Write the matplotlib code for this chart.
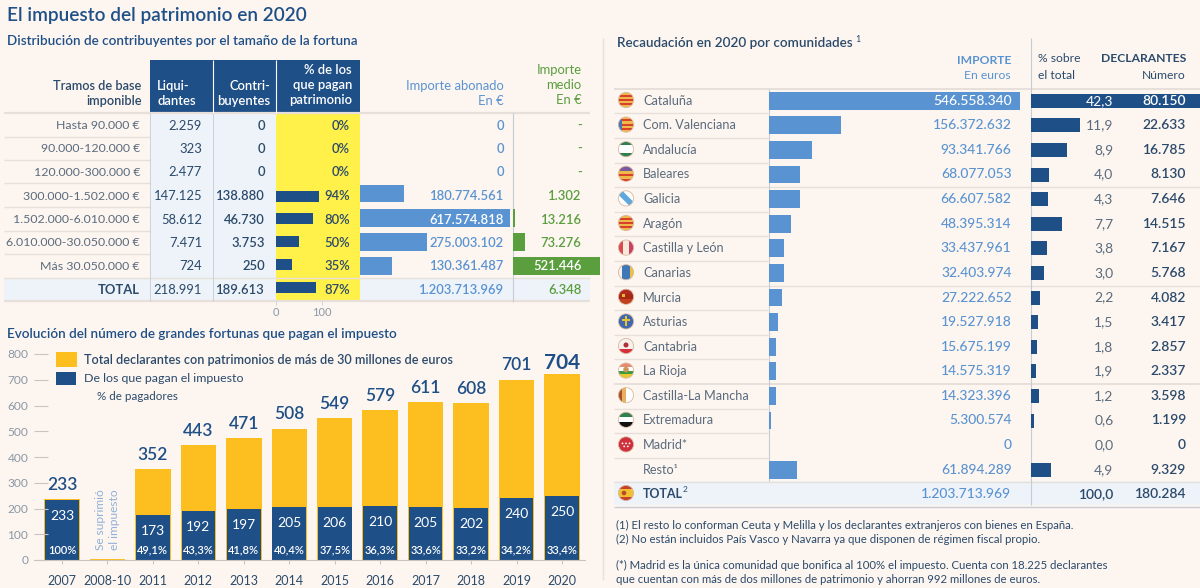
import matplotlib
matplotlib.use('Agg')
import matplotlib.pyplot as plt
from matplotlib.patches import Circle, Rectangle, Polygon

# --- left table
tramos = ['Hasta 90.000 €', '90.000-120.000 €', '120.000-300.000 €', '300.000-1.502.000 €',
          '1.502.000-6.010.000 €', '6.010.000-30.050.000 €', 'Más 30.050.000 €', 'TOTAL']
liquidantes = ['2.259', '323', '2.477', '147.125', '58.612', '7.471', '724', '218.991']
contribuyentes = ['0', '0', '0', '138.880', '46.730', '3.753', '250', '189.613']
pct_pagan = [0, 0, 0, 94, 80, 50, 35, 87]
importe_abonado = [0, 0, 0, 180774561, 617574818, 275003102, 130361487, 1203713969]
importe_medio = [None, None, None, 1302, 13216, 73276, 521446, 6348]

# --- evolution chart
years = ['2007', '2008-10', '2011', '2012', '2013', '2014', '2015', '2016', '2017', '2018', '2019', '2020']
total_labels = [233, None, 352, 443, 471, 508, 549, 579, 611, 608, 701, 704]
# bar tops as drawn in the picture (2020 is drawn taller than its label)
total_drawn = [235, 5, 353, 445, 473, 510, 550, 581, 612, 609, 699, 722]
pagan = [233, 0, 173, 192, 197, 205, 206, 210, 205, 202, 240, 250]
pct_pagadores = ['100%', '', '49,1%', '43,3%', '41,8%', '40,4%', '37,5%', '36,3%', '33,6%', '33,2%', '34,2%', '33,4%']

# --- right table
comunidades = ['Cataluña', 'Com. Valenciana', 'Andalucía', 'Baleares', 'Galicia', 'Aragón', 'Castilla y León',
               'Canarias', 'Murcia', 'Asturias', 'Cantabria', 'La Rioja', 'Castilla-La Mancha', 'Extremadura',
               'Madrid*', 'Resto¹']
importe_ccaa = [546558340, 156372632, 93341766, 68077053, 66607582, 48395314, 33437961, 32403974,
                27222652, 19527918, 15675199, 14575319, 14323396, 5300574, 0, 61894289]
pct_total = ['42,3', '11,9', '8,9', '4,0', '4,3', '7,7', '3,8', '3,0', '2,2', '1,5', '1,8', '1,9', '1,2', '0,6', '0,0', '4,9']
declarantes = [80150, 22633, 16785, 8130, 7646, 14515, 7167, 5768, 4082, 3417, 2857, 2337, 3598, 1199, 0, 9329]
RD = '#d8402a'
OR = '#eeb84a'
flag_stripes = [('h', [OR, RD, OR, RD, OR, RD, OR]),
                ('h', [OR, RD, OR, RD, OR, RD, OR]),
                ('h', ['#2f7f50', '#ffffff', '#ffffff', '#2f7f50']),
                ('h', ['#7a5a9a', '#7a5a9a', OR, RD, OR, RD]),
                ('h', ['#ffffff']),
                ('h', [OR, RD, OR, RD, OR, RD, OR]),
                ('v', ['#d84a50', '#f7e8dc', '#c84060']),
                ('v', ['#f5f0ea', '#3f78b8', '#3f78b8', '#eec040']),
                ('h', ['#b02a20', '#a82818', '#c04020']),
                ('h', ['#3f68b0', '#3f68b0']),
                ('h', ['#f8f0ea', '#f8f0ea', '#d8303a']),
                ('h', ['#e88a70', '#ffffff', '#3f9a40', '#e8c830']),
                ('v', ['#a8502a', '#e8b060', '#ffffff', '#ffffff']),
                ('h', ['#2f7f50', '#ffffff', '#111111']),
                ('h', ['#d0303c'])]

BG = '#fdf6f0'
NAVY = '#1f4f87'
MID = '#5a93d2'
YEL = '#fff04a'
GOLD = '#fdbf20'
GREEN = '#5a9e3e'
DARK = '#2b4a6b'
GREY = '#5b6b7d'
PALE = '#eef3f9'
LINE = '#e6dfda'
LINE2 = '#c5ccd6'

plt.rcParams['font.family'] = ['Lato', 'DejaVu Sans']
W, H = 1200, 588
fig = plt.figure(figsize=(W / 100, H / 100), dpi=100, facecolor=BG)


def px_axes(x0, y0, x1, y1, z):
    ax = fig.add_axes([x0 / W, 1 - y1 / H, (x1 - x0) / W, (y1 - y0) / H], zorder=z)
    ax.patch.set_alpha(0)
    return ax


def overlay(z):
    ax = px_axes(0, 0, W, H, z)
    ax.set_xlim(0, W)
    ax.set_ylim(H, 0)
    ax.axis('off')
    return ax


def bar_column(x0, x1, vmax, first, step, rows, values, color, height):
    n = len(values)
    ax = px_axes(x0, first - step / 2, x1, first + (n - 0.5) * step, 2)
    ax.set_xlim(0, vmax)
    ax.set_ylim(n - 0.5, -0.5)
    ax.barh(rows, values, height=height / step, color=color)
    ax.axis('off')
    return ax


back = overlay(1)
front = overlay(3)


def txt(x, y, s, color=GREY, size=9.4, ha='right', weight='normal', **kw):
    front.text(x, y, s, color=color, fontsize=size, ha=ha, va='center', fontweight=weight, **kw)


txt(7, 15, 'El impuesto del patrimonio en 2020', NAVY, 13.65, 'left', 'semibold')
txt(7, 41, 'Distribución de contribuyentes por el tamaño de la fortuna', NAVY, 9.7, 'left', 'semibold')

# left table: backgrounds and rules
back.add_patch(Rectangle((150, 113), 126, 188, color=PALE, lw=0))
back.add_patch(Rectangle((4, 278), 586, 23, color=PALE, lw=0))
back.add_patch(Rectangle((276, 113), 84, 188, color=YEL, lw=0))
back.add_patch(Rectangle((150, 60), 210, 53, color=NAVY, lw=0))
row_lines = [113, 136.5, 160, 183, 207, 231, 254, 277.5, 301]
for i, y in enumerate(row_lines):
    back.hlines(y, 4, 150 if 0 < i < 7 else 590, color=LINE, lw=1.6 if i in (0, 8) else 1)
for x in (150, 213):
    back.vlines(x, 113, 301, color=LINE2, lw=0.6)
back.vlines(513, 113, 302, color=LINE2, lw=0.8)
front.vlines([213, 276], 60, 113, color='white', lw=0.8)

txt(141.5, 86, 'Tramos de base', DARK, 9.2, weight='semibold')
txt(141.5, 101, 'imponible', DARK, 9.2, weight='semibold')
txt(157, 86, 'Liqui-', 'white', 9.4, 'left', 'semibold')
txt(157, 101, 'dantes', 'white', 9.4, 'left', 'semibold')
txt(270, 86, 'Contri-', 'white', 9.4, weight='semibold')
txt(270, 101, 'buyentes', 'white', 9.4, weight='semibold')
for y, s in zip((70, 85, 100), ('% de los', 'que pagan', 'patrimonio')):
    txt(352, y, s, 'white', 9.4, weight='semibold')
txt(504, 86, 'Importe abonado', MID, 9.4)
txt(504, 101, 'En €', MID, 9.4)
for y, s in zip((70, 85, 100), ('Importe', 'medio', 'En €')):
    txt(581.5, y, s, GREEN, 9.4)

# left table: bars
pct_ax = bar_column(276, 322, 100, 127.5, 22.85, range(8), pct_pagan, NAVY, 11)
bar_column(360, 510, 617574818, 121, 24.2, range(7), importe_abonado[:7], MID, 17.7)
medio_bars = [v or 0 for v in importe_medio[:7]]
bar_column(513, 600, 521446, 121, 24.2, range(7), medio_bars, GREEN, 17.7)

row_y = [125.5, 149, 172.5, 196, 219.5, 243, 266, 290]
for i, y in enumerate(row_y):
    is_total = i == 7
    txt(140, y, tramos[i], DARK if is_total else GREY, 9.4 if is_total else 8.9,
        weight='bold' if is_total else 'normal')
    txt(202, y, liquidantes[i], DARK)
    txt(265, y, contribuyentes[i], DARK, weight='semibold')
    txt(350, y, f'{pct_pagan[i]}%', DARK, weight='semibold')
    importe = f'{importe_abonado[i]:,}'.replace(',', '.')
    txt(504, y, importe, 'white' if i == 4 else MID, weight='semibold')
    medio = '-' if importe_medio[i] is None else f'{importe_medio[i]:,}'.replace(',', '.')
    txt(581.5, y, medio, 'white' if i == 6 else GREEN, weight='semibold')
txt(276, 313, '0', '#8b97a5', 8, 'center')
txt(322, 313, '100', '#8b97a5', 8, 'center')
back.vlines([276, 322], 301, 305, color=LINE2, lw=0.6)

# evolution chart
txt(7, 334, 'Evolución del número de grandes fortunas que pagan el impuesto', NAVY, 9.75, 'left', 'semibold')
ax = px_axes(34, 354, 585, 560, 2)
xs = range(len(years))
ax.bar(xs, total_drawn, width=0.78, color=GOLD)
ax.bar(xs, pagan, width=0.74, color=NAVY)
ax.set_xlim(-0.616, 11.507)
ax.set_ylim(0, 800)
ax.set_yticks(range(0, 801, 100))
ax.set_xticks(list(xs), years)
ax.tick_params(axis='y', direction='in', length=10, width=0.8, color='#c9c4c0', labelcolor='#8b97a5',
               labelsize=8.6, pad=4)
ax.tick_params(axis='x', length=3, width=0.8, color='#c9c4c0', labelcolor=DARK, labelsize=9, pad=8)
for s in ('top', 'right', 'left'):
    ax.spines[s].set_visible(False)
ax.spines['bottom'].set_color('#c9c4c0')
for i in xs:
    if total_labels[i] is not None:
        big = i == len(years) - 1
        ax.annotate(str(total_labels[i]), (i, total_drawn[i]), xytext=(0, 8 if big else 10.5),
                    textcoords='offset points', ha='center', va='center', color=NAVY,
                    fontsize=15 if big else 12.5, fontweight='bold' if big else 'semibold')
    if pagan[i]:
        ax.annotate(str(pagan[i]), (i, pagan[i]), xytext=(0, -11.5), textcoords='offset points',
                    ha='center', va='center', color='white', fontsize=10)
        ax.annotate(pct_pagadores[i], (i, 0), xytext=(0, 7), textcoords='offset points',
                    ha='center', va='center', color='white', fontsize=8, fontweight='semibold')
ax.text(1, 155, 'Se suprimió\nel impuesto', rotation=90, ha='center', va='center', color='#8fb0d8',
        fontsize=8.6, linespacing=1.3)

front.add_patch(Rectangle((55.5, 352), 21, 15, color=GOLD, lw=0))
front.add_patch(Rectangle((56, 372), 20, 12.5, color=NAVY, lw=0))
txt(84, 360, 'Total declarantes con patrimonios de más de 30 millones de euros', DARK, 9.05, 'left', 'semibold')
txt(84, 379, 'De los que pagan el impuesto', DARK, 8.9, 'left')
txt(97, 397, '% de pagadores', DARK, 8.4, 'left')

# right table
back.vlines(603, 38, 580, color=LINE, lw=1)
txt(617, 43, 'Recaudación en 2020 por comunidades', DARK, 9.7, 'left', 'semibold')
txt(855, 40, '1', DARK, 6.5, 'left')
txt(1011, 60, 'IMPORTE', MID, 8.7, weight='bold')
txt(1011, 75.5, 'En euros', MID, 8.7)
txt(1038, 59, '% sobre', DARK, 8.7, 'left')
txt(1038, 75.5, 'el total', DARK, 8.7, 'left')
txt(1186, 59, 'DECLARANTES', DARK, 8.7, weight='bold')
txt(1186, 75.5, 'Número', DARK, 8.7)

back.add_patch(Rectangle((614, 481), 586, 23.5, color=PALE, lw=0))
step = 24.6
top = 88.7
for i in range(18):
    y = top + i * step
    full = i in (0, 4, 8, 12, 16, 17)
    back.hlines(y, 614, 1200 if full else 768, color=LINE2 if i == 17 else LINE, lw=1.4 if i in (0, 12) else 1)
back.vlines(768.5, 88.7, 481, color=LINE2, lw=0.8)
back.vlines(1030.5, 38, 505, color=LINE2, lw=0.8)

n = len(comunidades)
rows = range(n)
bar_column(769, 1020, 546558340, 100.7, step, rows, importe_ccaa, MID, 17.7)
bar_column(1031, 1200, 77880, 100.7, step, rows, declarantes, NAVY, 14)

for i, name in enumerate(comunidades):
    y = 100.7 + i * step
    txt(643, y, name, GREY, 9.1, 'left')
    txt(1011.5, y, f'{importe_ccaa[i]:,}'.replace(',', '.'), 'white' if i == 0 else MID, 10, weight='medium')
    txt(1113.5, y, pct_total[i], 'white' if i == 0 else GREY, 10)
    txt(1186, y, f'{declarantes[i]:,}'.replace(',', '.'), 'white' if i == 0 else DARK, 10, weight='semibold')
txt(643, 494, 'TOTAL', DARK, 9, 'left', 'bold')
txt(683, 490, '2', DARK, 6, 'left')
txt(1011.5, 494, '1.203.713.969', MID, 10, weight='medium')
txt(1113.5, 494, '100,0', DARK, 10, weight='semibold')
txt(1186, 494, '180.284', DARK, 10, weight='semibold')


def flag(cx, cy, spec, extra=None, r=7.6):
    orient, colors = spec
    clip = Circle((cx, cy), r, transform=front.transData)
    h = 2 * r / len(colors)
    parts = []
    for k, c in enumerate(colors):
        if orient == 'h':
            parts.append(Rectangle((cx - r, cy - r + k * h), 2 * r, h, color=c, lw=0))
        else:
            parts.append(Rectangle((cx - r + k * h, cy - r), h, 2 * r, color=c, lw=0))
    if extra == 'Galicia':
        parts.append(Polygon([(cx - r, cy - r + 4), (cx - r + 4, cy - r), (cx + r, cy + r - 4), (cx + r - 4, cy + r)],
                             color='#5fa8dd', lw=0))
    if extra == 'Com. Valenciana':
        parts.append(Rectangle((cx - r, cy - r), 4, 2 * r, color='#3f78b8', lw=0))
    if extra == 'Asturias':
        parts.append(Rectangle((cx - 1, cy - 5), 2, 10, color='#e8c030', lw=0))
        parts.append(Rectangle((cx - 4, cy - 2.5), 8, 2, color='#e8c030', lw=0))
    if extra == 'Murcia':
        parts.append(Rectangle((cx - 4, cy - 3), 3, 3, color='#e8b830', lw=0))
    if extra == 'Cantabria':
        parts.append(Circle((cx, cy - 1), 2.5, color='#b03038', lw=0))
    if extra == 'La Rioja':
        parts.append(Circle((cx, cy - 1), 2.8, color='#c8985a', lw=0))
    if extra == 'Madrid*':
        for dx, dy in [(-3.5, -1), (0, -1), (3.5, -1), (-1.8, 2), (1.8, 2)]:
            parts.append(Circle((cx + dx, cy + dy), 0.9, color='white', lw=0))
    if extra == 'TOTAL':
        parts.append(Circle((cx - 2, cy), 2.3, color='#b84a2a', lw=0))
    for p in parts:
        front.add_patch(p)
        p.set_clip_path(clip)
    front.add_patch(Circle((cx, cy), r, fill=False, ec='#d8b8a0', lw=0.6))


for i, spec in enumerate(flag_stripes):
    flag(626, 100 + i * step, spec, comunidades[i])
flag(626, 493, ('h', ['#c8402a', '#f0c030', '#f0c030', '#c8402a']), 'TOTAL')

notes = [(525, '(1) El resto lo conforman Ceuta y Melilla y los declarantes extranjeros con bienes en España.'),
         (539, '(2) No están incluidos País Vasco y Navarra ya que disponen de régimen fiscal propio.'),
         (565, '(*) Madrid es la única comunidad que bonifica al 100% el impuesto. Cuenta con 18.225 declarantes'),
         (579.5, 'que cuentan con más de dos millones de patrimonio y ahorran 992 millones de euros.')]
for y, s in notes:
    txt(616, y, s, DARK, 8.2, 'left')

fig.savefig('out.png', dpi=100, facecolor=BG)
